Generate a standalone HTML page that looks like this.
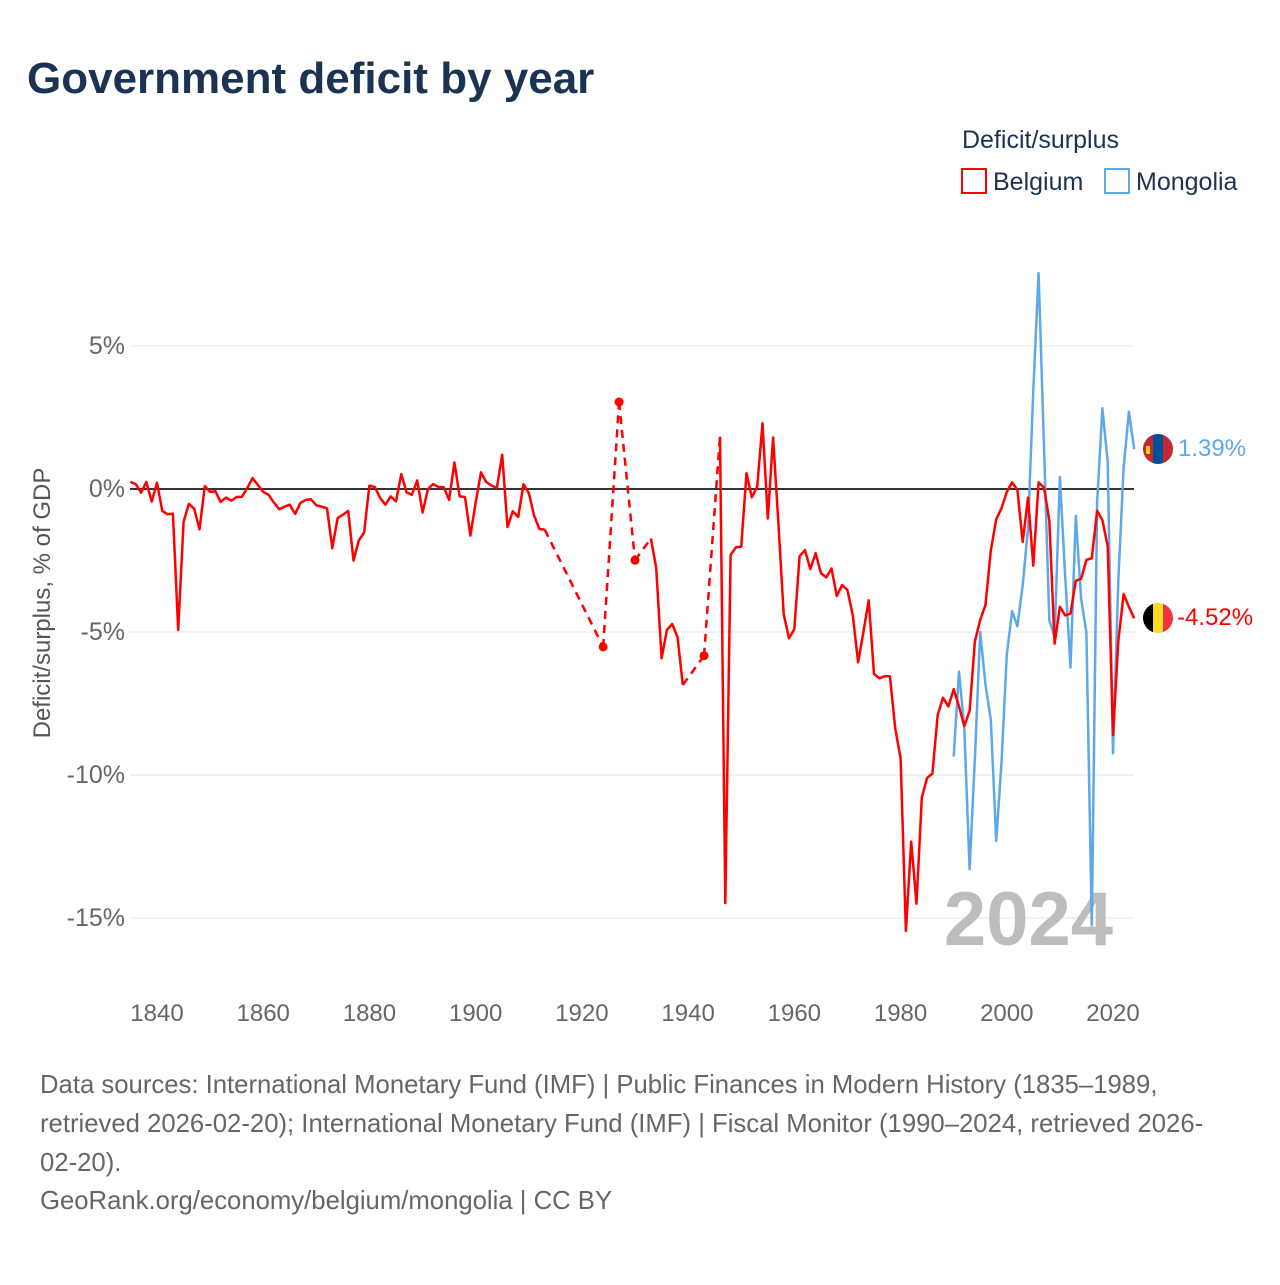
<!DOCTYPE html>
<html><head><meta charset="utf-8">
<style>
body{margin:0;background:#fff;width:1280px;height:1280px;overflow:hidden;font-family:"Liberation Sans",sans-serif;}
</style></head>
<body>
<svg id="chart" width="1280" height="1280" viewBox="0 0 1280 1280" xmlns="http://www.w3.org/2000/svg">
<text x="27" y="93" font-size="44" font-weight="bold" fill="#1b3352">Government deficit by year</text>
<text x="962" y="148" font-size="25" fill="#1b3352">Deficit/surplus</text>
<g>
<rect x="962" y="169" width="24" height="24" fill="none" stroke="#ff0000" stroke-width="2"/>
<text x="993" y="190" font-size="25" fill="#1b3352">Belgium</text></g>
<g>
<rect x="1105" y="169" width="24" height="24" fill="none" stroke="#5fa8e8" stroke-width="2"/>
<text x="1136" y="190" font-size="25" fill="#1b3352">Mongolia</text></g>
<g id="grid"></g>
<g id="ylabels"></g>
<g id="xlabels"></g>
<text x="1113" y="945" font-size="76" font-weight="bold" fill="#bdbdbd" text-anchor="end">2024</text>
<g id="series"></g>
<text transform="translate(50,603) rotate(-90)" font-size="24" fill="#555" text-anchor="middle">Deficit/surplus, % of GDP</text>
<g>
<clipPath id="cm"><circle cx="1158" cy="449" r="15"/></clipPath>
<g clip-path="url(#cm)"><rect x="1143" y="434" width="10" height="30" fill="#c4272f"/><rect x="1153" y="434" width="10" height="30" fill="#015197"/><rect x="1163" y="434" width="10" height="30" fill="#c4272f"/><rect x="1146" y="446" width="4" height="8" fill="#f9cf02"/></g></g>
<g>
<clipPath id="cb"><circle cx="1158" cy="618" r="15"/></clipPath>
<g clip-path="url(#cb)"><rect x="1143" y="603" width="10" height="30" fill="#000"/><rect x="1153" y="603" width="10" height="30" fill="#fdda24"/><rect x="1163" y="603" width="10" height="30" fill="#ef3340"/></g></g>
<text x="1178" y="456" font-size="24" fill="#5fa8e8">1.39%</text>
<text x="1177" y="625" font-size="24" fill="#ff0000">-4.52%</text>
<g font-size="25.7" fill="#666">
<text x="40" y="1093">Data sources: International Monetary Fund (IMF) | Public Finances in Modern History (1835–1989,</text>
<text x="40" y="1132">retrieved 2026-02-20); International Monetary Fund (IMF) | Fiscal Monitor (1990–2024, retrieved 2026-</text>
<text x="40" y="1171">02-20).</text>
<text x="40" y="1209">GeoRank.org/economy/belgium/mongolia | CC BY</text>
</g>
</svg>
<script>
const yTicks=[5,0,-5,-10,-15];
const xTicks=[1840,1860,1880,1900,1920,1940,1960,1980,2000,2020];
const belgiumYears=[1835,1836,1837,1838,1839,1840,1841,1842,1843,1844,1845,1846,1847,1848,1849,1850,1851,1852,1853,1854,1855,1856,1857,1858,1859,1860,1861,1862,1863,1864,1865,1866,1867,1868,1869,1870,1871,1872,1873,1874,1875,1876,1877,1878,1879,1880,1881,1882,1883,1884,1885,1886,1887,1888,1889,1890,1891,1892,1893,1894,1895,1896,1897,1898,1899,1900,1901,1902,1903,1904,1905,1906,1907,1908,1909,1910,1911,1912,1913,1924,1927,1930,1933,1934,1935,1936,1937,1938,1939,1943,1946,1947,1948,1949,1950,1951,1952,1953,1954,1955,1956,1957,1958,1959,1960,1961,1962,1963,1964,1965,1966,1967,1968,1969,1970,1971,1972,1973,1974,1975,1976,1977,1978,1979,1980,1981,1982,1983,1984,1985,1986,1987,1988,1989,1990,1991,1992,1993,1994,1995,1996,1997,1998,1999,2000,2001,2002,2003,2004,2005,2006,2007,2008,2009,2010,2011,2012,2013,2014,2015,2016,2017,2018,2019,2020,2021,2022,2023,2024];
const belgiumValues=[0.25,0.17,-0.13,0.25,-0.44,0.22,-0.77,-0.88,-0.86,-4.93,-1.14,-0.52,-0.69,-1.41,0.1,-0.1,-0.08,-0.45,-0.3,-0.41,-0.28,-0.27,0.04,0.38,0.14,-0.1,-0.2,-0.47,-0.71,-0.62,-0.55,-0.87,-0.49,-0.38,-0.36,-0.57,-0.62,-0.68,-2.07,-1.02,-0.9,-0.77,-2.5,-1.8,-1.52,0.12,0.07,-0.31,-0.55,-0.26,-0.43,0.52,-0.12,-0.2,0.3,-0.82,0,0.17,0.07,0.06,-0.38,0.93,-0.26,-0.28,-1.63,-0.47,0.58,0.24,0.12,0.04,1.2,-1.33,-0.78,-0.98,0.17,-0.14,-0.93,-1.4,-1.42,-5.52,3.04,-2.49,-1.73,-2.76,-5.92,-4.93,-4.72,-5.18,-6.85,-5.83,1.83,-14.48,-2.31,-2.04,-2.02,0.55,-0.29,0.08,2.3,-1.03,1.8,-1.2,-4.38,-5.22,-4.9,-2.35,-2.14,-2.8,-2.24,-2.94,-3.09,-2.78,-3.74,-3.36,-3.53,-4.42,-6.06,-5.0,-3.89,-6.47,-6.62,-6.55,-6.55,-8.36,-9.42,-15.45,-12.33,-14.5,-10.79,-10.1,-9.95,-7.9,-7.3,-7.6,-7.0,-7.6,-8.29,-7.76,-5.33,-4.58,-4.05,-2.15,-1.06,-0.67,-0.1,0.23,-0.03,-1.85,-0.3,-2.68,0.23,0.05,-1.09,-5.41,-4.12,-4.42,-4.35,-3.21,-3.14,-2.48,-2.42,-0.76,-1.09,-2.0,-8.6,-5.33,-3.67,-4.12,-4.52];
const mongoliaYears=[1990,1991,1992,1993,1994,1995,1996,1997,1998,1999,2000,2001,2002,2003,2004,2005,2006,2007,2008,2009,2010,2011,2012,2013,2014,2015,2016,2017,2018,2019,2020,2021,2022,2023,2024];
const mongoliaValues=[-9.35,-6.39,-8.36,-13.29,-9.42,-5.0,-6.85,-8.06,-12.3,-9.58,-5.79,-4.27,-4.8,-3.36,-1.39,3.45,7.55,1.48,-4.58,-5.18,0.42,-3.06,-6.24,-0.94,-3.82,-5.03,-15.26,-0.48,2.82,0.95,-9.24,-3.21,0.73,2.7,1.39];

const NS="http://www.w3.org/2000/svg";
const X0=130,X1=1134;
function xs(yr){return 157+(yr-1840)*(956/180);}
function ys(v){return 489-v*28.6;}
function mk(tag,attrs,parent){const e=document.createElementNS(NS,tag);for(const k in attrs)e.setAttribute(k,attrs[k]);parent.appendChild(e);return e;}
const grid=document.getElementById('grid'),yl=document.getElementById('ylabels'),xl=document.getElementById('xlabels'),ser=document.getElementById('series');
yTicks.forEach(t=>{
  if(t!==0){const g=mk('line',{x1:X0,x2:X1,y1:ys(t),y2:ys(t),stroke:'#e6e6e6','stroke-width':1},grid);
  
  }
  const tx=mk('text',{x:125,y:ys(t)+8,'font-size':25,fill:'#666','text-anchor':'end'},yl);
  tx.textContent=t+'%';
  
  
});
xTicks.forEach(t=>{
  const tx=mk('text',{x:xs(t),y:1021,'font-size':24,fill:'#666','text-anchor':'middle'},xl);
  tx.textContent=t;
  
  
});
const zl=mk('line',{x1:X0,x2:X1,y1:ys(0),y2:ys(0),stroke:'#333','stroke-width':2},grid);



function drawSeries(years,vals,color,name){
  const g=mk('g',{},ser);
  
  
  let solid=[];
  const flush=()=>{if(solid.length>1){const p=mk('polyline',{points:solid.join(' '),fill:'none',stroke:color,'stroke-width':2.5,'stroke-linejoin':'round'},g);
    
    }solid=[];};
  for(let i=0;i<years.length;i++){
    const pt=xs(years[i]).toFixed(1)+','+ys(vals[i]).toFixed(1);
    if(i>0&&years[i]-years[i-1]>1){
      flush();
      const d=mk('line',{x1:xs(years[i-1]),y1:ys(vals[i-1]),x2:xs(years[i]),y2:ys(vals[i]),stroke:color,'stroke-width':2.5,'stroke-dasharray':'8,6'},g);
      
      
    }
    solid.push(pt);
    const prevGap=i===0||years[i]-years[i-1]>1, nextGap=i===years.length-1||years[i+1]-years[i]>1;
    if(prevGap&&nextGap){const c=mk('circle',{cx:xs(years[i]),cy:ys(vals[i]),r:4.5,fill:color},g);
      
      }
  }
  flush();
}
drawSeries(mongoliaYears,mongoliaValues,'#5fa8e8','mongolia');
drawSeries(belgiumYears,belgiumValues,'#ff0000','belgium');
</script>
</body></html>
